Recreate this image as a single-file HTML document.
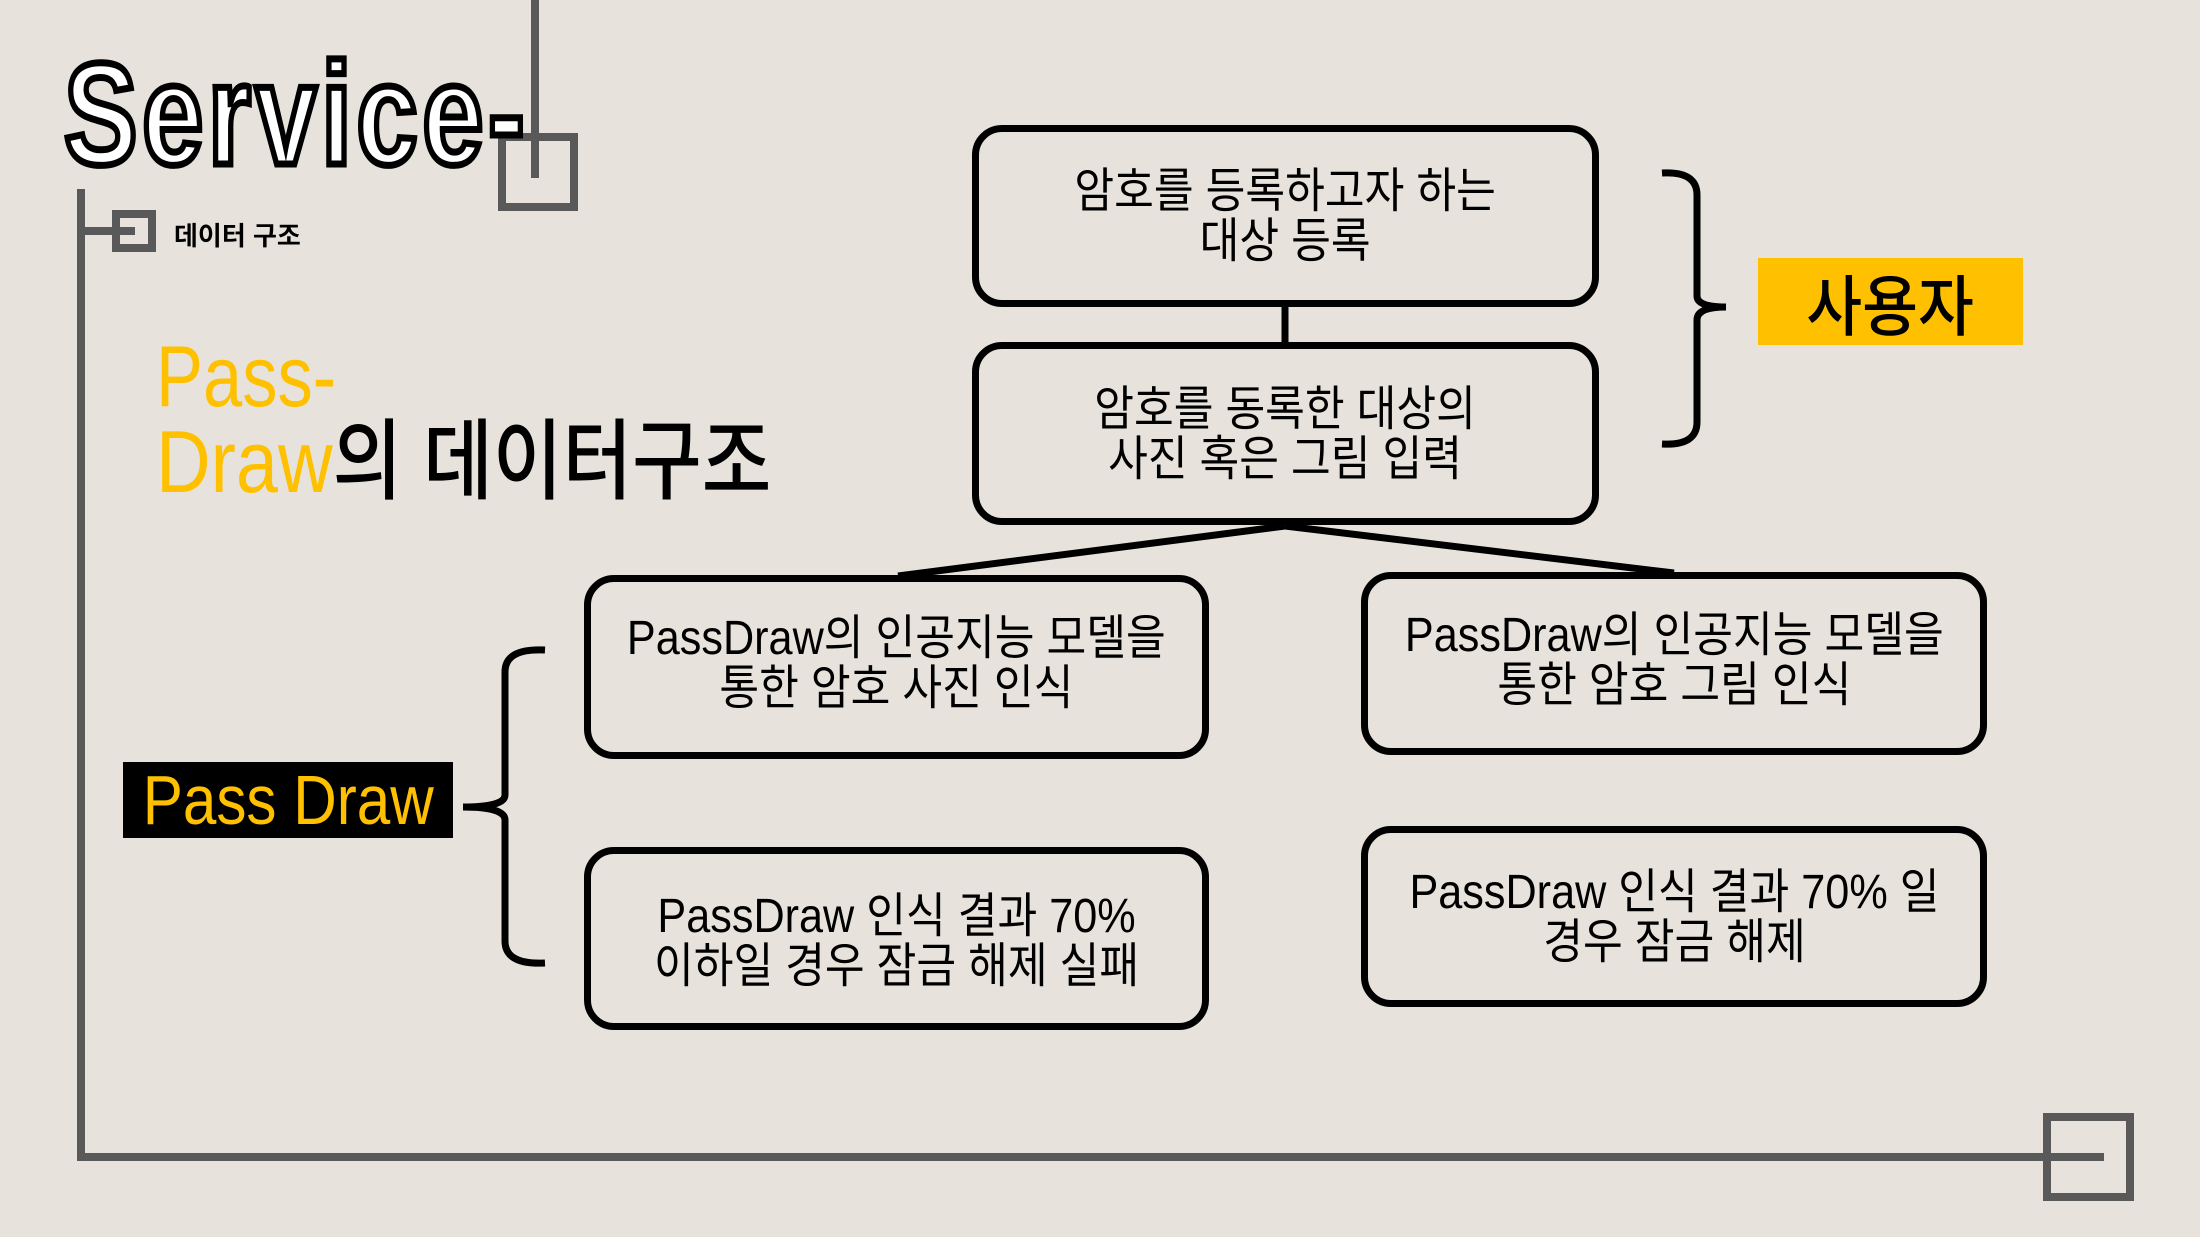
<!DOCTYPE html>
<html><head><meta charset="utf-8">
<style>
html,body{margin:0;padding:0}
body{width:2200px;height:1237px;background:#E7E3DC;position:relative;overflow:hidden;font-family:"Liberation Sans","Noto Sans CJK KR",sans-serif}
.box{position:absolute;box-sizing:border-box;border:7px solid #000;border-radius:30px;display:flex;align-items:center;justify-content:center}
.txt{font-family:"Liberation Sans","Noto Sans CJK KR",sans-serif;font-size:48px;line-height:50px;text-align:center;color:#000;transform:scaleX(0.9);white-space:nowrap;margin-top:2px}
.abs{position:absolute;white-space:nowrap}
</style></head><body>
<svg width="2200" height="1237" style="position:absolute;left:0;top:0">
 <g stroke="#595959" stroke-width="8" fill="none">
  <line x1="535" y1="0" x2="535" y2="178"/>
  <rect x="502" y="137" width="72" height="70"/>
  <polyline points="81,189 81,1157 2104,1157"/>
  <line x1="81" y1="231" x2="135" y2="231"/>
  <rect x="116" y="214" width="36" height="34"/>
  <rect x="2047" y="1117" width="83" height="80"/>
 </g>
 <g stroke="#000" stroke-width="7" fill="none">
  <line x1="1285" y1="305" x2="1285" y2="345"/>
  <line x1="1285" y1="526" x2="898" y2="576"/>
  <line x1="1285" y1="526" x2="1674" y2="573"/>
  <path d="M1662,173 Q1697,171 1697,195 L1697,296 Q1697,307 1726,307 Q1697,307 1697,320 L1697,422 Q1697,446 1662,444"/>
  <path d="M545,650 Q505,648 505,672 L505,795 Q505,807 463,807 Q505,807 505,820 L505,941 Q505,965 545,963"/>
 </g>
</svg>
<div class="abs" style="left:64px;top:42px;font-size:145px;font-weight:bold;color:#fff;-webkit-text-stroke:7px #000;transform:scaleX(0.76);transform-origin:left top;letter-spacing:6px;line-height:145px">Service-</div>
<div class="abs" style="left:174px;top:216px;font-size:26px;font-weight:bold">데이터 구조</div>
<div class="abs" style="left:156px;top:334px;font-size:86px;line-height:86px;color:#FFC000;transform:scaleX(0.82);transform-origin:left top">Pass-</div>
<div class="abs" style="left:156px;top:418px;font-size:88px;line-height:88px;color:#000;font-weight:500;transform:scaleX(0.86);transform-origin:left top"><span style="color:#FFC000;font-weight:400">Draw</span>의 데이터구조</div>

<div class="box" style="left:972px;top:125px;width:627px;height:182px"><div class="txt">암호를 등록하고자 하는<br>대상 등록</div></div>
<div class="box" style="left:972px;top:342px;width:627px;height:183px"><div class="txt">암호를 동록한 대상의<br>사진 혹은 그림 입력</div></div>
<div class="box" style="left:584px;top:575px;width:625px;height:184px"><div class="txt" style="margin-top:-6px">PassDraw의 인공지능 모델을<br>통한 암호 사진 인식</div></div>
<div class="box" style="left:1361px;top:572px;width:626px;height:183px"><div class="txt" style="margin-top:-6px">PassDraw의 인공지능 모델을<br>통한 암호 그림 인식</div></div>
<div class="box" style="left:584px;top:847px;width:625px;height:183px"><div class="txt" style="margin-top:6px">PassDraw 인식 결과 70%<br>이하일 경우 잠금 해제 실패</div></div>
<div class="box" style="left:1361px;top:826px;width:626px;height:181px"><div class="txt">PassDraw 인식 결과 70% 일<br>경우 잠금 해제</div></div>

<div class="abs" style="left:1758px;top:258px;width:265px;height:87px;background:#FFC000;display:flex;align-items:center;justify-content:center"><span style="font-size:66px;font-weight:500;transform:scaleX(0.92);display:inline-block">사용자</span></div>
<div class="abs" style="left:123px;top:762px;width:330px;height:76px;background:#000;display:flex;align-items:center;justify-content:center;overflow:hidden"><span style="font-size:70px;color:#FFC000;transform:scaleX(0.86);display:inline-block">Pass Draw</span></div>
</body></html>
